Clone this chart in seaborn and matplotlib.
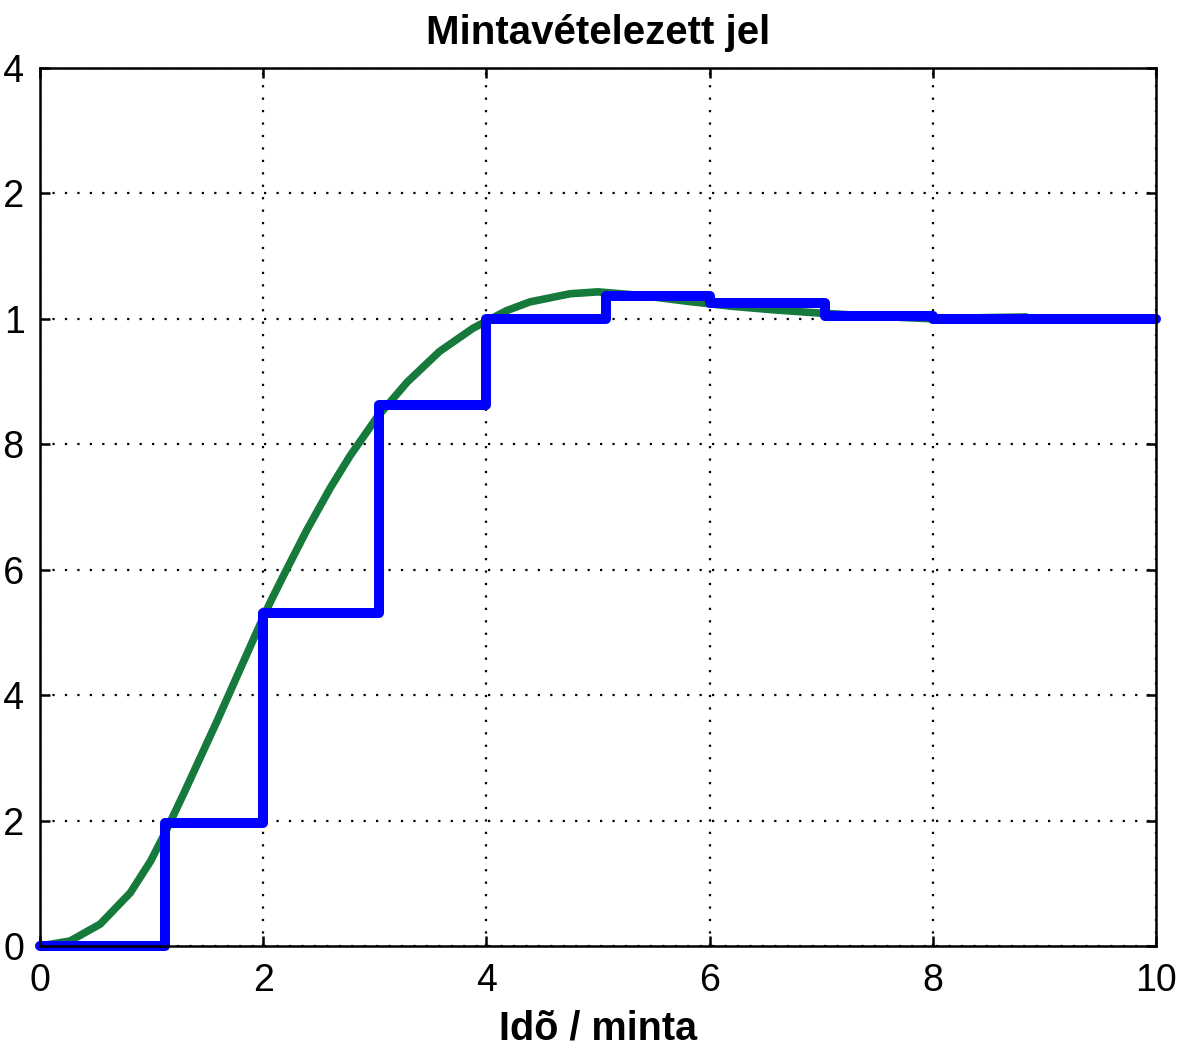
import matplotlib
matplotlib.use("Agg")
import matplotlib.pyplot as plt
from matplotlib.ticker import FormatStrFormatter
import seaborn as sns

# folytonos jel (zold gorbe), leolvasott pontok
t_cont = [0, 0.27, 0.54, 0.81, 0.99, 1.12, 1.28, 1.43, 1.59, 1.70, 1.82, 1.94,
          2.06, 2.18, 2.39, 2.60, 2.78, 3.02, 3.29, 3.58, 3.88, 4.18, 4.39,
          4.75, 5.0, 5.4, 5.8, 6.2, 6.6, 7.0, 7.5, 8.0, 8.5, 8.85]
y_cont = [0, 0.008, 0.035, 0.085, 0.135, 0.18, 0.24, 0.298, 0.36, 0.404,
          0.452, 0.50, 0.547, 0.59, 0.663, 0.73, 0.782, 0.843, 0.899, 0.948,
          0.985, 1.013, 1.027, 1.040, 1.043, 1.037, 1.028, 1.02, 1.014, 1.009,
          1.004, 1.0, 1.002, 1.003]

# mintavetelezett, tartott jel (kek lepcso)
t_samp = [0, 1.12, 2.0, 3.04, 4.0, 5.07, 6.0, 7.03, 8.0, 10.0]
y_samp = [0, 0.196, 0.531, 0.862, 1.0, 1.037, 1.025, 1.004, 1.0, 1.0]

x_ticks = [0, 2, 4, 6, 8, 10]
y_ticks = [0, 0.2, 0.4, 0.6, 0.8, 1.0, 1.2, 1.4]

sns.set_theme(style="white")
plt.rcParams['font.family'] = ['Liberation Sans', 'DejaVu Sans']

fig = plt.figure(figsize=(11.83, 10.49), dpi=100)
ax = fig.add_axes([0.0338, 0.0982, 0.9434, 0.8370])

sns.lineplot(x=t_cont, y=y_cont, ax=ax, color='#157a3c', lw=5.5, sort=False,
             solid_capstyle='butt', solid_joinstyle='round')
sns.lineplot(x=t_samp, y=y_samp, ax=ax, color='#0000ff', lw=7.2,
             drawstyle='steps-post', sort=False, clip_on=False)

ax.set_xlim(0, 10)
ax.set_ylim(0, 1.4)
ax.set_xticks(x_ticks)
ax.set_yticks(y_ticks)
ax.yaxis.set_major_formatter(FormatStrFormatter('%g'))

# racs es keret (MATLAB stilus)
ax.grid(True, color='black', linestyle=(0, (1, 4.6)), linewidth=1.6)
for s in ax.spines.values():
    s.set_color('black')
    s.set_linewidth(1.8)
ax.tick_params(direction='in', length=7, width=1.8, top=True, right=True,
               bottom=True, left=True, colors='black', labelsize=27)
ax.tick_params(axis='x', pad=12)
ax.tick_params(axis='y', pad=11)

ax.set_title('Mintavételezett jel', fontsize=29, fontweight='bold',
             color='black', pad=17)
ax.set_xlabel('Idõ / minta', fontsize=28.5, fontweight='bold',
              color='black', labelpad=8)
ax.set_ylabel('')

fig.savefig('out.png', dpi=100, facecolor='white')
